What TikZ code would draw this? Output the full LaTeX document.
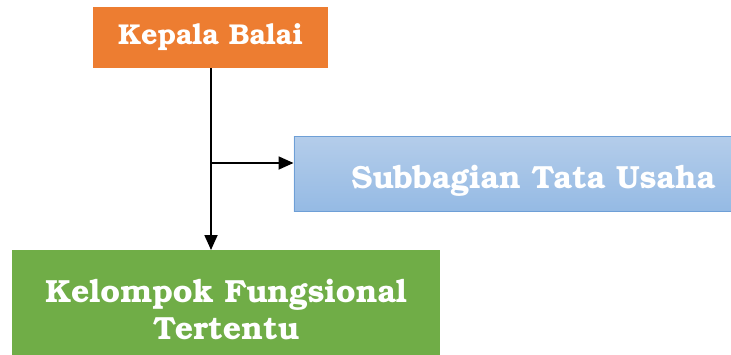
\documentclass[tikz,border=0pt]{standalone}
\usepackage[T1]{fontenc}
\usepackage{bookman}
\usetikzlibrary{arrows.meta}
\definecolor{orangebox}{HTML}{ED7D31}
\definecolor{greenbox}{HTML}{70AD47}
\definecolor{bluetop}{HTML}{B4CDEA}
\definecolor{bluebot}{HTML}{95BAE4}
\definecolor{blueedge}{HTML}{6E9FD6}
\newcommand{\lowtext}[2]{\raisebox{-#1}[0pt][0pt]{#2}}
\tikzset{
  box/.style={rectangle, inner sep=0pt, text=white, font=\bfseries\fontsize{32}{37}\selectfont, align=center},
  conn/.style={line width=1.8pt, -{Triangle[length=15pt,width=13pt]}},
}
\begin{document}
\begin{tikzpicture}[x=1pt,y=-1pt]
\useasboundingbox (0,0) rectangle (731,354);
\node[box, fill=orangebox, minimum width=235pt, minimum height=61pt, font=\bfseries\fontsize{28.7}{34}\selectfont] (kb) at (210.5,37.5) {Kepala Balai};
\node[box, top color=bluetop, bottom color=bluebot, draw=blueedge, line width=0.8pt, minimum width=437pt, minimum height=75pt, anchor=west] (sub) at (293.5,173.5) {\hspace*{42pt}\lowtext{14.5pt}{Subbagian Tata Usaha}};
\node[box, fill=greenbox, minimum width=428pt, minimum height=106pt, anchor=north west] (kf) at (12,250) {\lowtext{17.5pt}{Kelompok Fungsional}\\\lowtext{17.5pt}{Tertentu}};
\coordinate (j) at (211,163);
\draw[line width=1.8pt] (kb.south -| j) -- (j);
\draw[conn] (kb.south -| j) -- (kf.north -| j);
\draw[conn] (j) -- (sub.west |- j);
\end{tikzpicture}
\end{document}
